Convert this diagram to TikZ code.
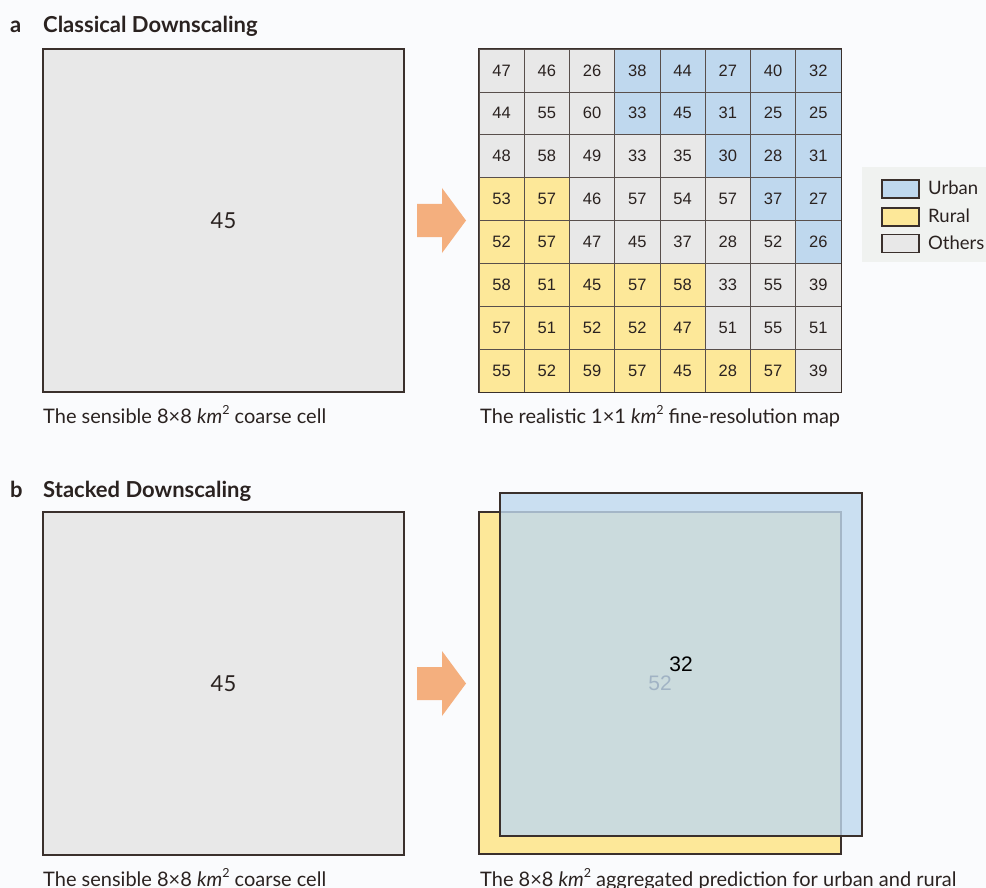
\documentclass[tikz,border=0pt]{standalone}
\usepackage{fontspec}
\setmainfont{Lato}
\newfontfamily\arialf{Liberation Sans}
\newcommand\kmsq{\textit{km}\raisebox{0.42em}{\fontsize{12.5}{13}\selectfont 2}}
\definecolor{bgc}{HTML}{FAFBFD}
\definecolor{ink}{HTML}{2A2220}
\definecolor{edge}{HTML}{3A302C}
\definecolor{colU}{HTML}{BFD8EE}
\definecolor{colR}{HTML}{FDE899}
\definecolor{colO}{HTML}{E8E8E8}
\definecolor{arrowc}{HTML}{F4AF7E}
\definecolor{legbg}{HTML}{F0F2F0}
\tikzset{
  cell/.style={draw=edge!85, line width=0.7pt, minimum width=45.25pt, minimum height=42.875pt, inner sep=0pt, text=ink, font=\arialf\fontsize{16.5}{19}\selectfont},
  coarse/.style={draw=edge, line width=1.5pt, fill=colO, minimum width=361pt, minimum height=343pt, inner sep=0pt, text=ink, font=\fontsize{22}{26}\selectfont},
  caption/.style={anchor=base west, inner sep=0pt, text=ink, font=\fontsize{20}{24}\selectfont},
  title/.style={anchor=base west, inner sep=0pt, text=ink, font=\bfseries\fontsize{22}{26}\selectfont},
  legbox/.style={draw=edge, line width=1.4pt, minimum width=37pt, minimum height=18pt, inner sep=0pt},
  legtext/.style={anchor=west, inner sep=0pt, text=ink, font=\fontsize{18.5}{22}\selectfont},
  bigarrow/.style={fill=arrowc}
}
\begin{document}
\begin{tikzpicture}[x=1pt,y=-1pt]
\useasboundingbox (0,0) rectangle (986,888);
\fill[bgc] (0,0) rectangle (986,888);

% ---------- panel a ----------
\node[title] (la) at (10,33) {a};
\node[title] (ta) at (43,33) {Classical Downscaling};
\node[coarse] (ca) at (223.5,220.5) {45};
\node[caption] (capa1) at (43,423) {The sensible 8×8 \kmsq{} coarse cell};

\fill[bigarrow] (417,204) -- (442,204) -- (442,188) -- (466,220.5) -- (442,253) -- (442,237) -- (417,237) -- cycle;

\foreach \row [count=\i from 0] in {
  {O/47,O/46,O/26,U/38,U/44,U/27,U/40,U/32},
  {O/44,O/55,O/60,U/33,U/45,U/31,U/25,U/25},
  {O/48,O/58,O/49,O/33,O/35,U/30,U/28,U/31},
  {R/53,R/57,O/46,O/57,O/54,O/57,U/37,U/27},
  {R/52,R/57,O/47,O/45,O/37,O/28,O/52,U/26},
  {R/58,R/51,R/45,R/57,R/58,O/33,O/55,O/39},
  {R/57,R/51,R/52,R/52,R/47,O/51,O/55,O/51},
  {R/55,R/52,R/59,R/57,R/45,R/28,R/57,O/39}} {
  \foreach \t/\v [count=\j from 0] in \row {
    \node[cell, fill=col\t] (c\i\j) at ({479+45.25*\j+22.625},{49+42.875*\i+21.4375}) {\v};
  }
}
\draw[edge, line width=1.5pt] (c00.north west) rectangle (c77.south east);
\node[caption] (capa2) at (480,423) {The realistic 1×1 \kmsq{} fine-resolution map};

% legend
\node[fill=legbg, minimum width=130pt, minimum height=95pt, inner sep=0pt] (leg) at (927,214.5) {};
\node[legbox, fill=colU] (lu) at (900.5,189) {};
\node[legbox, fill=colR] (lr) at (900.5,217) {};
\node[legbox, fill=colO] (lo) at (900.5,243.5) {};
\node[legtext] (tu) at (928,188) {Urban};
\node[legtext] (tr) at (928,216) {Rural};
\node[legtext] (to) at (928,243) {Others};

% ---------- panel b ----------
\node[title] (lb) at (10,497) {b};
\node[title] (tb) at (43,497) {Stacked Downscaling};
\node[coarse] (cb) at (223.5,683.5) {45};
\node[caption] (capb1) at (43,886) {The sensible 8×8 \kmsq{} coarse cell};

\fill[bigarrow] (417,667) -- (442,667) -- (442,651) -- (466,683.5) -- (442,716) -- (442,700) -- (417,700) -- cycle;

\node[draw=edge, line width=1.5pt, fill=colR, minimum width=362pt, minimum height=342pt, inner sep=0pt, text=ink, font=\arialf\fontsize{21}{25}\selectfont] (yel) at (660,683) {52};
\node[draw=edge, line width=1.5pt, fill=colU, fill opacity=0.8, text opacity=1, minimum width=362pt, minimum height=343pt, inner sep=0pt, text=black, font=\arialf\fontsize{21}{25}\selectfont] (blu) at (681,664.5) {32};
\node[caption] (capb2) at (480,886) {The 8×8 \kmsq{} aggregated prediction for urban and rural};
\end{tikzpicture}
\end{document}
